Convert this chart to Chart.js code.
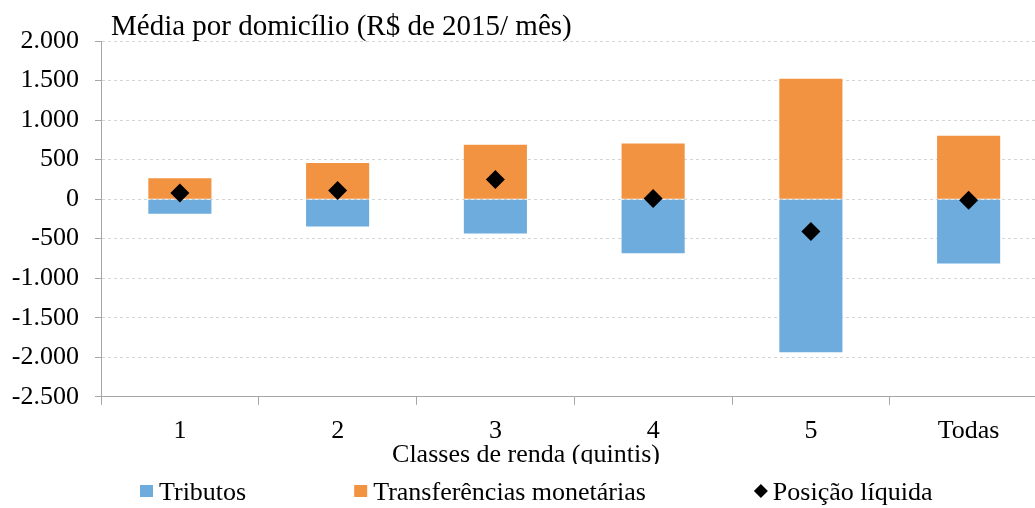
<!DOCTYPE html>
<html>
<head>
<meta charset="utf-8">
<script src="https://cdn.jsdelivr.net/npm/chart.js@4"></script>
<style>
  html, body { margin: 0; padding: 0; background: #fff; overflow: hidden; }
  #wrap { width: 1057px; height: 508px; }
</style>
</head>
<body>
<div id="wrap"><canvas id="chart"></canvas></div>
<script>
// Média por domicílio (R$ de 2015/ mês), by income quintile
const categories = ["1", "2", "3", "4", "5", "Todas"];
const tributos = [-185, -347, -435, -684, -1937, -815];
const transferencias = [265, 456, 687, 704, 1523, 801];
const posicaoLiquida = [76, 109, 248, 8, -410, -13];
const yMin = -2500;
const yMax = 2000;
const yStep = 500;

const FONT = "'Liberation Serif', 'Times New Roman', serif";
const BLUE = "#6DACDD";
const ORANGE = "#F29342";

// thousands separator like "2.000" / "-2.500"
function formatTick(v) {
  const s = Math.abs(v).toString().replace(/\B(?=(\d{3})+(?!\d))/g, ".");
  return (v < 0 ? "-" : "") + s;
}

// title, cut-off x axis title and legend drawn straight on the canvas
const extras = {
  id: "extras",
  afterDraw(chart) {
    const ctx = chart.ctx;
    ctx.save();
    ctx.fillStyle = "#000";
    ctx.textBaseline = "alphabetic";
    ctx.textAlign = "left";

    ctx.font = "29px " + FONT;
    ctx.fillText("M\u00e9dia por domic\u00edlio (R$ de 2015/ m\u00eas)", 111, 35);

    // axis title, bottom half hidden behind the legend like in the source
    ctx.font = "26px " + FONT;
    ctx.textAlign = "center";
    ctx.fillText("Classes de renda (quintis)", 526, 462);
    ctx.fillStyle = "#fff";
    ctx.fillRect(300, 464, 500, 12);

    // legend
    ctx.textAlign = "left";
    const items = chart.data.datasets.slice().sort((a, b) => a.legendIndex - b.legendIndex);
    let x = 140;
    items.forEach((ds) => {
      if (ds.type === "bar") {
        ctx.fillStyle = ds.backgroundColor;
        ctx.fillRect(x, 485, 13, 12);
      } else {
        ctx.fillStyle = "#000";
        ctx.beginPath();
        ctx.moveTo(x + 7, 484);
        ctx.lineTo(x + 14, 491);
        ctx.lineTo(x + 7, 498);
        ctx.lineTo(x, 491);
        ctx.closePath();
        ctx.fill();
      }
      x += 19;
      ctx.font = "26px " + FONT;
      ctx.fillStyle = "#000";
      ctx.fillText(ds.label, x, 500);
      x += ctx.measureText(ds.label).width + 108;
    });
    ctx.restore();
  },
};

new Chart(document.getElementById("chart"), {
  data: {
    labels: categories,
    datasets: [
      {
        type: "line",
        label: "Posi\u00e7\u00e3o l\u00edquida",
        legendIndex: 2,
        data: posicaoLiquida,
        stack: "net",
        showLine: false,
        pointStyle: "rectRot",
        pointRadius: 9.5,
        pointHoverRadius: 9.5,
        pointBackgroundColor: "#000",
        pointBorderColor: "#000",
        pointBorderWidth: 0,
        order: 0,
      },
      {
        type: "bar",
        label: "Tributos",
        legendIndex: 0,
        data: tributos,
        backgroundColor: BLUE,
        stack: "fluxo",
        categoryPercentage: 0.4,
        barPercentage: 1,
        order: 1,
      },
      {
        type: "bar",
        label: "Transfer\u00eancias monet\u00e1rias",
        legendIndex: 1,
        data: transferencias,
        backgroundColor: ORANGE,
        stack: "fluxo",
        categoryPercentage: 0.4,
        barPercentage: 1,
        order: 1,
      },
    ],
  },
  options: {
    responsive: true,
    maintainAspectRatio: false,
    animation: false,
    layout: { padding: { top: 41, left: 12, right: 0, bottom: 50 } },
    plugins: {
      legend: { display: false },
      tooltip: { enabled: false },
      title: { display: false },
    },
    scales: {
      x: {
        stacked: true,
        offset: true,
        grid: {
          offset: true,
          drawOnChartArea: false,
          drawTicks: true,
          tickLength: 8,
          color: "#a6a6a6",
        },
        border: { color: "#a6a6a6" },
        ticks: {
          color: "#000",
          font: { family: FONT, size: 26 },
          padding: 11,
          maxRotation: 0,
        },
      },
      y: {
        stacked: true,
        min: yMin,
        max: yMax,
        afterFit(scale) {
          scale.width = 89;
        },
        ticks: {
          stepSize: yStep,
          color: "#000",
          font: { family: FONT, size: 26 },
          padding: 16,
          callback: (v) => formatTick(v),
        },
        grid: {
          color: "#d4d4d4",
          tickColor: "#a6a6a6",
          tickLength: 6,
          tickBorderDash: [],
        },
        border: { color: "#a6a6a6", dash: [3, 3] },
      },
    },
  },
  plugins: [extras],
});
</script>
</body>
</html>
